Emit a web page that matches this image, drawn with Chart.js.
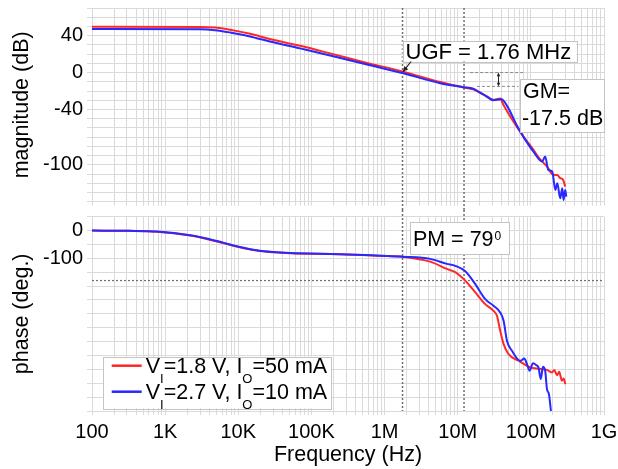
<!DOCTYPE html>
<html>
<head>
<meta charset="utf-8">
<style>
    html, body { margin: 0; padding: 0; background: #fff; }
    .wrap { position: relative; width: 618px; height: 469px; }
    #magChart { position: absolute; left: 0; top: 0; }
    #phaseChart { position: absolute; left: 0; top: 210px; }
</style>
</head>
<body>
<div class="wrap">
    <canvas id="magChart" width="618" height="210"></canvas>
    <canvas id="phaseChart" width="618" height="259"></canvas>
</div>

<script src="https://cdn.jsdelivr.net/npm/chart.js@4.4.0/dist/chart.umd.min.js"></script>
<script>

    // ---- data ----
    // frequency in Hz, magnitude in dB, phase in degrees
    const magFreqRed = [1e2, 3e3, 4.8e3, 7.7e3, 1.45e4, 2.7e4, 7e4, 1.8e5, 5.4e5, 1.8e6,
        5.75e6, 1.19e7, 1.63e7, 2.23e7, 3.06e7, 3.81e7, 4.19e7, 5.74e7, 7.87e7, 1.08e8,
        1.35e8, 1.67e8, 2.02e8, 2.29e8, 2.52e8, 2.75e8, 2.95e8]
    const magRed = [49.7, 49.5, 48.8, 46.5, 42, 36.3, 29, 20.8, 11, 1,
        -10.3, -16, -18.2, -23.7, -29.5, -28, -34.6, -52.8, -69.1, -83.6,
        -94.5, -101.9, -110.9, -111, -114.5, -116, -123.7]

    const magFreqBlue = [1e2, 3e3, 4.8e3, 7.7e3, 1.45e4, 2.7e4, 7e4, 1.8e5, 5.4e5, 1.8e6,
        5.75e6, 1.19e7, 1.63e7, 2.03e7, 2.63e7, 3.06e7, 3.98e7, 4.75e7, 6.52e7, 8.37e7,
        1.08e8, 1.43e8, 1.57e8, 1.73e8, 1.96e8, 2.16e8, 2.3e8, 2.52e8, 2.69e8, 2.8e8,
        2.95e8, 3.05e8]
    const magBlue = [47.2, 47.0, 46.0, 43.5, 39.2, 33.7, 26.2, 18.6, 9.2, -0.8,
        -11.5, -15.8, -17.4, -21.8, -27, -30, -29, -36.4, -58.2, -72.7,
        -85.5, -96.4, -90.9, -105.5, -107.3, -127.3, -120, -136.3, -125.4, -138.2,
        -127.3, -134.6]

    const phFreqRed = [1e2, 3.2e2, 7.7e2, 2.2e3, 3.7e3, 6.2e3, 1.05e4, 1.78e4, 2.99e4, 5.13e4,
        2.45e5, 8.7e5, 1.8e6, 4.2e6, 7.1e6, 9.25e6, 1.26e7, 1.73e7, 2.38e7, 3.09e7,
        3.44e7, 3.81e7, 4.24e7, 4.95e7, 6.79e7, 9.82e7, 1.21e8, 1.66e8, 1.94e8, 2.09e8,
        2.28e8, 2.44e8, 2.66e8, 2.8e8, 2.96e8]
    const phRed = [0, -1, -4, -18, -30, -45, -60, -72, -78, -81.5,
        -85, -91, -95, -112, -138, -150, -180, -222, -265, -289,
        -307, -361, -409, -445, -469, -493, -497, -502, -511, -502,
        -521, -509, -541, -533, -553]

    const phFreqBlue = [1e2, 3.2e2, 7.7e2, 2.2e3, 3.7e3, 6.2e3, 1.05e4, 1.78e4, 2.99e4, 5.13e4,
        2.45e5, 8.7e5, 1.8e6, 4.2e6, 7.1e6, 9.25e6, 1.26e7, 1.73e7, 2.38e7, 3.09e7,
        3.81e7, 4.24e7, 4.71e7, 5.52e7, 7.16e7, 8.13e7, 8.85e7, 9.6e7, 1.07e8, 1.19e8,
        1.27e8, 1.37e8, 1.46e8, 1.57e8, 1.66e8, 1.77e8, 1.88e8]
    const phBlue = [0, -1, -3.5, -16.5, -28.5, -43.5, -59, -71, -77.5, -81,
        -85, -90.5, -94, -102, -120, -127, -146, -192, -247, -271,
        -295, -325, -397, -433, -469, -461, -481, -505, -478, -485,
        -493, -535, -491, -505, -571, -590, -650]

    // tick labels
    const freqDecades = [1e2, 1e3, 1e4, 1e5, 1e6, 1e7, 1e8, 1e9]
    const freqTickLabels = ['100', '1K', '10K', '100K', '1M', '10M', '100M', '1G']
    const magTickLabels = [40, 0, -40, -100]
    const phaseTickLabels = [0, -100]

    // markers
    const ugfFreq = 1.76e6
    const gmFreq = 1.22e7
    const gmTop = 0
    const gmBottom = -15
    const pmLine = -180

    const redColor = 'rgb(255, 40, 40)'
    const blueColor = 'rgb(40, 40, 255)'
    const gridColor = '#dadada'
    const fontFamily = "'Liberation Sans', Arial, sans-serif"

    Chart.defaults.font.family = fontFamily
    Chart.defaults.color = '#000'

    function points(xs, ys) {
        return xs.map((f, i) => ({ x: f, y: ys[i] }))
    }

    function logTicks(scale) {
        const t = []
        for (let e = 2; e <= 9; e++) {
            for (let m = 1; m <= 9; m++) {
                const v = m * Math.pow(10, e)
                if (v > 1e9) break
                t.push({ value: v })
            }
        }
        scale.ticks = t
    }

    function gridTicks(from, to, step) {
        return scale => {
            const t = []
            for (let v = from; v <= to; v += step) t.push({ value: v })
            scale.ticks = t
        }
    }

    function line(ctx, x1, y1, x2, y2) {
        ctx.beginPath()
        ctx.moveTo(x1, y1)
        ctx.lineTo(x2, y2)
        ctx.stroke()
    }

    function arrowHead(ctx, x, y, ang, size) {
        ctx.beginPath()
        ctx.moveTo(x, y)
        ctx.lineTo(x - size * Math.cos(ang - 0.45), y - size * Math.sin(ang - 0.45))
        ctx.lineTo(x - size * Math.cos(ang + 0.45), y - size * Math.sin(ang + 0.45))
        ctx.closePath()
        ctx.fill()
    }

    function box(ctx, l, t, r, b) {
        ctx.fillStyle = '#fff'
        ctx.fillRect(l, t, r - l, b - t)
        ctx.strokeStyle = '#c4c4c4'
        ctx.lineWidth = 1
        ctx.setLineDash([])
        ctx.strokeRect(Math.round(l) + 0.5, Math.round(t) + 0.5, Math.round(r - l), Math.round(b - t))
    }

    const mainFont = '21.5px ' + fontFamily
    const smallFont = '13px ' + fontFamily

    function drawRich(ctx, parts, x, y) {
        parts.forEach(([txt, sub]) => {
            ctx.font = sub ? smallFont : mainFont
            ctx.fillText(txt, x, sub ? y + 10 : y)
            x += ctx.measureText(txt).width
        })
        return x
    }

    const legendItems = [
        { color: redColor, parts: [['V', 0], ['I', 1], ['=1.8 V, I', 0], ['O', 1], ['=50 mA', 0]] },
        { color: blueColor, parts: [['V', 0], ['I', 1], ['=2.7 V, I', 0], ['O', 1], ['=10 mA', 0]] }
    ]

    const magNotes = {
        id: 'magNotes',
        beforeDatasetsDraw(chart) {
            const { ctx, chartArea: a, scales: { x, y } } = chart
            ctx.save()
            ctx.strokeStyle = '#6e6e6e'
            ctx.lineWidth = 1.5
            ctx.setLineDash([2, 2])
            ;[ugfFreq, gmFreq].forEach(f => {
                const px = x.getPixelForValue(f)
                line(ctx, px, a.top, px, chart.height)
            })
            // GM guide lines
            ctx.strokeStyle = '#8a8a8a'
            ctx.lineWidth = 1
            ctx.setLineDash([3, 2])
            line(ctx, x.getPixelForValue(1.48e7), y.getPixelForValue(gmTop), x.getPixelForValue(7.87e7), y.getPixelForValue(gmTop))
            line(ctx, x.getPixelForValue(1.83e7), y.getPixelForValue(gmBottom), x.getPixelForValue(6.76e7), y.getPixelForValue(gmBottom))
            ctx.restore()
        },
        afterDatasetsDraw(chart) {
            const { ctx, chartArea: a, scales: { x, y } } = chart
            ctx.save()
            ctx.textBaseline = 'alphabetic'

            // UGF label
            ctx.font = '22px ' + fontFamily
            const ugfText = 'UGF = 1.76 MHz'
            const bx = x.getPixelForValue(ugfFreq)
            const by = y.getPixelForValue(34.5)
            box(ctx, bx, by, bx + ctx.measureText(ugfText).width + 8, by + 20.6)
            ctx.fillStyle = '#000'
            ctx.fillText(ugfText, bx + 3, by + 18)

            // UGF arrow
            ctx.strokeStyle = '#222'
            ctx.fillStyle = '#222'
            ctx.lineWidth = 1.2
            const ax1 = x.getPixelForValue(2.3e6), ay1 = y.getPixelForValue(12)
            const ax2 = x.getPixelForValue(1.78e6), ay2 = y.getPixelForValue(0.8)
            line(ctx, ax1, ay1, ax2, ay2)
            arrowHead(ctx, ax2, ay2, Math.atan2(ay2 - ay1, ax2 - ax1), 6)

            // GM arrow
            const gx = x.getPixelForValue(3.61e7)
            const gy1 = y.getPixelForValue(gmTop), gy2 = y.getPixelForValue(gmBottom)
            ctx.lineWidth = 1
            line(ctx, gx, gy1 + 2, gx, gy2 - 2)
            arrowHead(ctx, gx, gy1, -Math.PI / 2, 4)
            arrowHead(ctx, gx, gy2, Math.PI / 2, 4)

            // GM label
            const gl = x.getPixelForValue(7.16e7)
            const gt = y.getPixelForValue(-7.3)
            box(ctx, gl, gt, a.right, y.getPixelForValue(-65))
            ctx.fillStyle = '#000'
            ctx.font = mainFont
            ctx.fillText('GM=', gl + 2.7, gt + 18.8)
            ctx.fillText('-17.5 dB', gl + 1.7, gt + 45.5)
            ctx.restore()
        }
    }

    const phaseNotes = {
        id: 'phaseNotes',
        beforeDatasetsDraw(chart) {
            const { ctx, chartArea: a, scales: { x, y } } = chart
            ctx.save()
            ctx.strokeStyle = '#6e6e6e'
            ctx.lineWidth = 1.5
            ctx.setLineDash([2, 2])
            ;[ugfFreq, gmFreq].forEach(f => {
                const px = x.getPixelForValue(f)
                line(ctx, px, 0, px, a.bottom)
            })
            ctx.lineWidth = 1.2
            const py = y.getPixelForValue(pmLine)
            line(ctx, a.left, py, a.right, py)
            ctx.restore()
        },
        afterDatasetsDraw(chart) {
            const { ctx, chartArea: a, scales: { x, y } } = chart
            ctx.save()
            ctx.textBaseline = 'alphabetic'

            // PM label
            const pmText = 'PM = 79'
            const bx = x.getPixelForValue(2.24e6)
            const by = y.getPixelForValue(31)
            ctx.font = mainFont
            const tw = ctx.measureText(pmText).width
            box(ctx, bx, by, bx + 99, y.getPixelForValue(-84))
            ctx.fillStyle = '#000'
            ctx.font = mainFont
            ctx.fillText(pmText, bx + 2.7, by + 23.6)
            ctx.font = '12px ' + fontFamily
            ctx.fillText('0', bx + 3.7 + tw, by + 18.4)

            // legend
            const lx = a.left + 11.3
            const ly = a.bottom - 54.3
            ctx.font = mainFont
            let textEnd = 0
            const tmp = document.createElement('canvas').getContext('2d')
            tmp.font = mainFont
            legendItems[0].parts.forEach(([t, s]) => {
                tmp.font = s ? smallFont : mainFont
                textEnd += tmp.measureText(t).width
            })
            box(ctx, lx, ly, lx + 42.4 + textEnd + 4, ly + 51.6)
            legendItems.forEach((it, i) => {
                const base = ly + 16.6 + i * 26
                ctx.strokeStyle = it.color
                ctx.lineWidth = 2.5
                line(ctx, lx + 8.4, base - 7.6, lx + 38.4, base - 7.6)
                ctx.fillStyle = '#000'
                drawRich(ctx, it.parts, lx + 42.4, base)
            })
            ctx.restore()
        }
    }

    function freqLabel(v) {
        const i = freqDecades.indexOf(v)
        return i >= 0 ? freqTickLabels[i] : ''
    }

    const magCtx = document.getElementById('magChart').getContext('2d')
    const phaseCtx = document.getElementById('phaseChart').getContext('2d')

    const lineStyle = {
        borderWidth: 2,
        pointRadius: 0,
        fill: false,
        cubicInterpolationMode: 'monotone'
    }

    new Chart(magCtx, {
        type: 'line',
        data: {
            datasets: [
                Object.assign({ label: 'red', data: points(magFreqRed, magRed), borderColor: redColor, order: 2 }, lineStyle),
                Object.assign({ label: 'blue', data: points(magFreqBlue, magBlue), borderColor: blueColor, order: 1 }, lineStyle)
            ]
        },
        options: {
            responsive: false,
            animation: false,
            events: [],
            layout: { padding: { top: 8, bottom: 8.3, right: 14, left: 0 } },
            plugins: { legend: { display: false }, tooltip: { enabled: false } },
            scales: {
                x: {
                    type: 'logarithmic',
                    min: 1e2,
                    max: 1e9,
                    afterBuildTicks: logTicks,
                    ticks: { display: false, autoSkip: false },
                    grid: { color: gridColor, tickLength: 4, tickColor: gridColor },
                    border: { display: false },
                    afterFit: s => { s.height = 0; s.paddingLeft = 0; s.paddingRight = 0 }
                },
                y: {
                    min: -140,
                    max: 70,
                    afterBuildTicks: gridTicks(-140, 70, 10),
                    ticks: {
                        autoSkip: false,
                        font: { size: 20 },
                        padding: 4,
                        callback: v => magTickLabels.includes(v) ? String(v) : ''
                    },
                    grid: { color: gridColor, tickLength: 5, tickColor: gridColor },
                    border: { display: false },
                    title: { display: true, text: 'magnitude (dB)', font: { size: 21.5 }, padding: { top: 9, bottom: 0 } },
                    afterFit: s => { s.width = 92; s.paddingTop = 0; s.paddingBottom = 0 }
                }
            }
        },
        plugins: [magNotes]
    });

    new Chart(phaseCtx, {
        type: 'line',
        data: {
            datasets: [
                Object.assign({ label: 'red', data: points(phFreqRed, phRed), borderColor: redColor, order: 2 }, lineStyle),
                Object.assign({ label: 'blue', data: points(phFreqBlue, phBlue), borderColor: blueColor, order: 1 }, lineStyle)
            ]
        },
        options: {
            responsive: false,
            animation: false,
            events: [],
            layout: { padding: { top: 6.7, bottom: 0, right: 14, left: 0 } },
            plugins: { legend: { display: false }, tooltip: { enabled: false } },
            scales: {
                x: {
                    type: 'logarithmic',
                    min: 1e2,
                    max: 1e9,
                    afterBuildTicks: logTicks,
                    ticks: { autoSkip: false, maxRotation: 0, font: { size: 20 }, padding: 5, callback: freqLabel },
                    grid: { color: gridColor, tickLength: 4, tickColor: gridColor },
                    border: { display: false },
                    title: { display: true, text: 'Frequency (Hz)', font: { size: 21.5 }, padding: { top: 0, bottom: 1 } },
                    afterFit: s => { s.height = 58; s.paddingLeft = 0; s.paddingRight = 0 }
                },
                y: {
                    min: -650,
                    max: 50,
                    afterBuildTicks: gridTicks(-650, 50, 50),
                    ticks: {
                        autoSkip: false,
                        font: { size: 20 },
                        padding: 4,
                        callback: v => phaseTickLabels.includes(v) ? String(v) : ''
                    },
                    grid: { color: gridColor, tickLength: 5, tickColor: gridColor },
                    border: { display: false },
                    title: { display: true, text: 'phase (deg.)', font: { size: 21.5 }, padding: { top: 9, bottom: 0 } },
                    afterFit: s => { s.width = 92; s.paddingTop = 0; s.paddingBottom = 0 }
                }
            }
        },
        plugins: [phaseNotes]
    });

</script>
</body>
</html>
